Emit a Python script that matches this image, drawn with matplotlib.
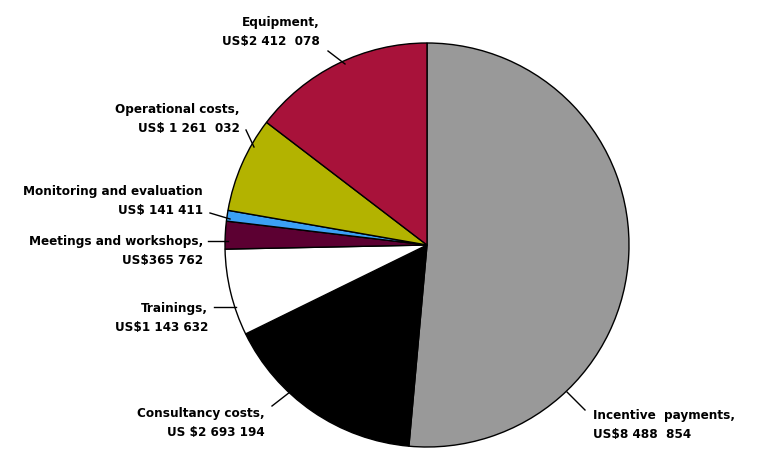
import matplotlib.pyplot as plt
from matplotlib import font_manager

labels = ['Incentive  payments,\nUS$8 488  854', 'Consultancy costs,\nUS $2 693 194',
          'Trainings,\nUS$1 143 632', 'Meetings and workshops,\nUS$365 762',
          'Monitoring and evaluation\nUS$ 141 411', 'Operational costs,\nUS$ 1 261  032',
          'Equipment,\nUS$2 412  078']
values = [8488854, 2693194, 1143632, 365762, 141411, 1261032, 2412078]
colors = ['#999999', '#000000', '#ffffff', '#5c0032', '#3ba0f5', '#b3b300', '#a8123a']

# label placement in image pixels (x, y of block centre, alignment), leader line start/end
label_pos = [(593, 425, 'left'), (265, 423, 'right'), (208, 318, 'right'),
             (203, 251, 'right'), (203, 201, 'right'), (240, 119, 'right'),
             (320, 32, 'right')]
leaders = [((585, 410), (567, 392)), ((272, 406), (290, 392)), ((214, 307), (236, 307)),
           ((208, 241), (228, 241)), ((210, 213), (230, 219)), ((246, 130), (254, 147)),
           ((328, 51), (345, 64))]


def weight_num(w):
    if isinstance(w, (int, float)):
        return w
    return font_manager.weight_dict.get(w, 400)


# pick a bold narrow face if there is one, else plain bold sans
font_file = None
for f in font_manager.fontManager.ttflist:
    narrow = ('Narrow' in f.name or 'Condensed' in f.name or 'condensed' in str(f.stretch))
    if narrow and weight_num(f.weight) >= 600 and f.style == 'normal':
        font_file = f.fname
        break
if font_file:
    fp = font_manager.FontProperties(fname=font_file)
else:
    fp = font_manager.FontProperties(family='Liberation Sans', weight='bold')

W, H = 771, 461
cx, cy, R = 427, 245, 202
fig = plt.figure(figsize=(W / 100, H / 100), dpi=100)
ax = fig.add_axes([0, 0, 1, 1])

ax.pie(values, colors=colors, startangle=90, counterclock=False, radius=1,
       wedgeprops=dict(edgecolor='black', linewidth=1))
ax.set_xlim(-cx / R, (W - cx) / R)
ax.set_ylim(-(H - cy) / R, cy / R)
ax.set_aspect('auto')
ax.axis('off')


def px(x, y):
    return (x - cx) / R, (cy - y) / R


# scale font so "Monitoring and evaluation" is about 180 px wide
renderer = fig.canvas.get_renderer()
fp.set_size(13)
probe = ax.text(0, 0, 'Monitoring and evaluation', fontproperties=fp)
w = probe.get_window_extent(renderer).width
probe.remove()
fp.set_size(min(13 * 180 / w, 14))

for lab, (x, y, ha) in zip(labels, label_pos):
    tx, ty = px(x, y)
    ax.text(tx, ty, lab, ha=ha, va='center', fontproperties=fp, linespacing=1.62)
for (a, b) in leaders:
    x0, y0 = px(*a)
    x1, y1 = px(*b)
    ax.plot([x0, x1], [y0, y1], color='black', lw=1)

fig.savefig('out.png', dpi=100)
